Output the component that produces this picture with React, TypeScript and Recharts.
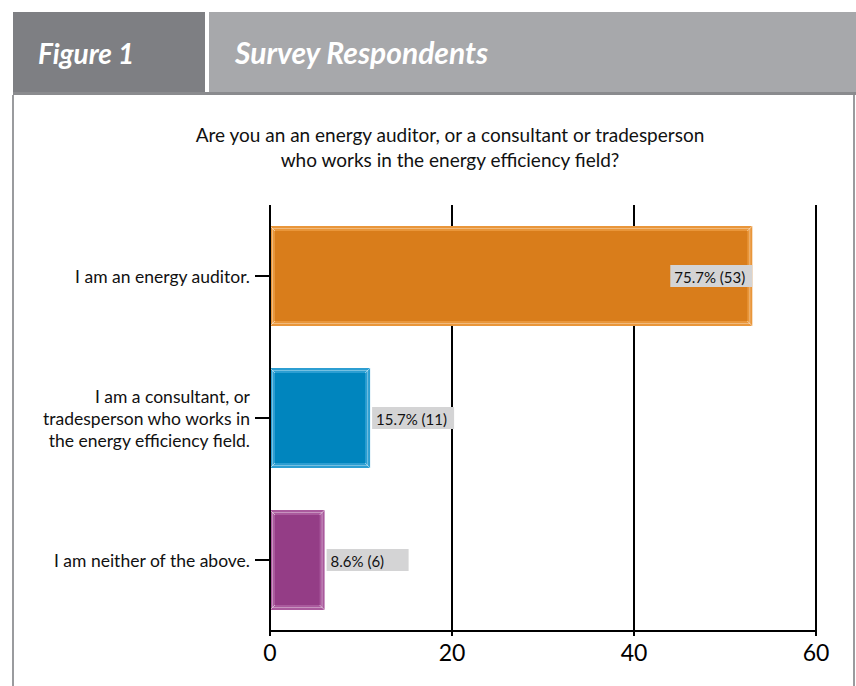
import React from 'react'
import { Bar, BarChart, CartesianGrid, LabelList, XAxis, YAxis } from 'recharts'

const categories = [
  'I am an energy auditor.',
  'I am a consultant, or\ntradesperson who works in\nthe energy efficiency field.',
  'I am neither of the above.',
]
const counts = [53, 11, 6]
const percents = [75.7, 15.7, 8.6]
const xTicks = [0, 20, 40, 60]

const fills = ['#D97D1B', '#0085BE', '#943D86']
const edges = ['#E9963A', '#2C9ED2', '#AA5A9D']

const data = categories.map((name, i) => ({
  name,
  count: counts[i],
  pct: percents[i],
}))

const FONT = 'Lato, "Open Sans", sans-serif'

const BevelBar = (props: any) => {
  const { x, y, width, height, index } = props
  if (!width || width <= 0) return null
  const b = 5
  const base = fills[index]
  const edge = edges[index]
  return (
    <g>
      <rect x={x} y={y} width={width} height={height} fill={edge} />
      <rect x={x + b} y={y + b} width={width - 2 * b} height={height - 2 * b} fill={base} />
      <rect
        x={x + 2.5}
        y={y + 2.5}
        width={width - 5}
        height={height - 5}
        fill="none"
        stroke="rgba(255,255,255,0.35)"
        strokeWidth={1}
      />
      <line x1={x} y1={y} x2={x + b} y2={y + b} stroke="rgba(255,255,255,0.5)" />
      <line x1={x + width} y1={y} x2={x + width - b} y2={y + b} stroke="rgba(255,255,255,0.5)" />
      <line x1={x} y1={y + height} x2={x + b} y2={y + height - b} stroke="rgba(255,255,255,0.5)" />
      <line x1={x + width} y1={y + height} x2={x + width - b} y2={y + height - b} stroke="rgba(255,255,255,0.5)" />
    </g>
  )
}

const ValueLabel = (props: any) => {
  const { x, y, width, height, index } = props
  const text = `${percents[index]}% (${counts[index]})`
  const boxW = 82
  const boxH = 22
  const cy = y + height / 2
  // long bar: put the label inside its end, otherwise just past it
  const inside = x + width + boxW > 800
  const bx = inside ? x + width - boxW : x + width + 2
  return (
    <g>
      <rect x={bx} y={cy - boxH / 2} width={boxW} height={boxH} fill="#D4D4D5" />
      <text
        x={bx + 4}
        y={cy + 1}
        dominantBaseline="central"
        fontFamily={FONT}
        fontSize={15}
        fill="#111"
      >
        {text}
      </text>
    </g>
  )
}

const CategoryTick = (props: any) => {
  const { x, y, payload } = props
  const lines = String(payload.value).split('\n')
  const lh = 22
  const start = y - ((lines.length - 1) * lh) / 2
  return (
    <text x={x - 3} textAnchor="end" fontFamily={FONT} fontSize={17.5} fill="#111">
      {lines.map((l, i) => (
        <tspan key={i} x={x - 3} y={start + i * lh} dominantBaseline="central">
          {l}
        </tspan>
      ))}
    </text>
  )
}

export default function App() {
  return (
    <div style={{ position: 'absolute', left: 0, top: 0, width: 856, height: 686, background: '#fff', overflow: 'hidden' }}>
      {/* header tabs */}
      <div style={{ position: 'absolute', left: 13, top: 12, width: 192, height: 83, background: '#7E7F83' }} />
      <div style={{ position: 'absolute', left: 209, top: 12, width: 647, height: 80, background: '#A7A8AB' }} />
      <div style={{ position: 'absolute', left: 13, top: 92, width: 843, height: 3, background: '#8A8B8E' }} />
      <div
        style={{
          position: 'absolute', left: 38, top: 33, color: '#fff', fontFamily: FONT,
          fontStyle: 'italic', fontWeight: 700, fontSize: 28, lineHeight: '40px',
        }}
      >
        Figure 1
      </div>
      <div
        style={{
          position: 'absolute', left: 235, top: 32, color: '#fff', fontFamily: FONT,
          fontStyle: 'italic', fontWeight: 700, fontSize: 30, lineHeight: '40px',
        }}
      >
        Survey Respondents
      </div>
      {/* panel borders */}
      <div style={{ position: 'absolute', left: 12, top: 95, width: 2, height: 600, background: '#9A9B9E' }} />
      <div style={{ position: 'absolute', left: 853, top: 95, width: 2, height: 600, background: '#9A9B9E' }} />

      {/* question */}
      <div
        style={{
          position: 'absolute', left: 100, top: 122, width: 700, textAlign: 'center',
          fontFamily: FONT, fontSize: 19, lineHeight: '25px', color: '#111',
        }}
      >
        Are you an an energy auditor, or a consultant or tradesperson
        <br />
        who works in the energy efficiency field?
      </div>

      <div style={{ position: 'absolute', left: 0, top: 0 }}>
        <BarChart
          width={856}
          height={686}
          data={data}
          layout="vertical"
          margin={{ top: 205, right: 40, bottom: 15, left: 0 }}
          barSize={100}
        >
          <CartesianGrid horizontal={false} stroke="#000" strokeWidth={2} />
          <XAxis
            type="number"
            domain={[0, 60]}
            ticks={xTicks}
            height={40}
            axisLine={{ stroke: '#000', strokeWidth: 2 }}
            tickLine={{ stroke: '#000', strokeWidth: 2 }}
            tickSize={5}
            tickMargin={9}
            tick={{ fontFamily: FONT, fontSize: 23, fill: '#000' }}
          />
          <YAxis
            type="category"
            dataKey="name"
            width={270}
            axisLine={{ stroke: '#000', strokeWidth: 2 }}
            tickLine={{ stroke: '#000', strokeWidth: 2 }}
            tickSize={15}
            tick={<CategoryTick />}
          />
          <Bar dataKey="count" shape={<BevelBar />} isAnimationActive={false}>
            <LabelList dataKey="count" content={<ValueLabel />} />
          </Bar>
        </BarChart>
      </div>
    </div>
  )
}
